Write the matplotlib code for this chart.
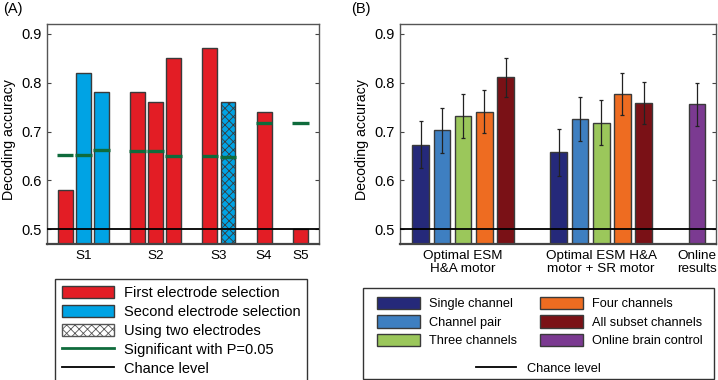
import matplotlib
matplotlib.use("Agg")
import matplotlib.pyplot as plt
from matplotlib.patches import Patch, Rectangle
from matplotlib.lines import Line2D
import numpy as np

plt.rcParams['font.family'] = ['Liberation Sans', 'DejaVu Sans']
plt.rcParams['hatch.linewidth'] = 0.6

# ---------------- Panel A data ----------------
a_pos = [1, 2, 3, 5, 6, 7, 9, 10, 12, 14]
a_vals = [0.58, 0.82, 0.78, 0.78, 0.76, 0.85, 0.87, 0.76, 0.74, 0.50]
a_kind = ['first', 'second', 'second', 'first', 'first', 'first', 'first', 'both', 'first', 'first']
a_sig = [0.653, 0.653, 0.662, 0.660, 0.660, 0.651, 0.650, 0.647, 0.718, 0.718]
a_ticks = [2, 6, 9.5, 12, 14]
a_ticklabels = ['S1', 'S2', 'S3', 'S4', 'S5']

# ---------------- Panel B data ----------------
b_pos = [1, 2, 3, 4, 5, 7.5, 8.5, 9.5, 10.5, 11.5, 14]
b_vals = [0.673, 0.703, 0.731, 0.741, 0.811,
          0.658, 0.726, 0.718, 0.776, 0.758,
          0.756]
b_err = [0.048, 0.046, 0.045, 0.044, 0.040,
         0.048, 0.045, 0.046, 0.043, 0.043,
         0.044]
b_kind = ['single', 'pair', 'three', 'four', 'all',
          'single', 'pair', 'three', 'four', 'all',
          'online']
b_ticks = [3, 9.5, 14]
b_ticklabels = ['Optimal ESM\nH&A motor', 'Optimal ESM H&A\nmotor + SR motor', 'Online\nresults']

chance = 0.5

colA = {'first': '#e31d25', 'second': '#00a3e4', 'both': '#00a3e4'}
colB = {'single': '#25297a', 'pair': '#3e7fc1', 'three': '#9bc75b',
        'four': '#ee6c21', 'all': '#7a1116', 'online': '#7b3a91'}
labB = {'single': 'Single channel', 'pair': 'Channel pair', 'three': 'Three channels',
        'four': 'Four channels', 'all': 'All subset channels', 'online': 'Online brain control'}
green = '#0f6b3c'
edge = '#3a3a3a'
FS = 10.5
FSX = 9.7
FSL = 9.2

W, H = 718, 380
fig = plt.figure(figsize=(W / 100, H / 100), dpi=100)

def style(ax, label_x_px, left_px, width_px):
    ax.set_ylim(0.47, 0.92)
    ax.set_yticks([0.5, 0.6, 0.7, 0.8, 0.9])
    ax.set_yticklabels(['0.5', '0.6', '0.7', '0.8', '0.9'])
    ax.tick_params(axis='y', direction='in', right=True, length=3, labelsize=FS, pad=4, color='#444')
    ax.tick_params(axis='x', length=0, labelsize=FSX, pad=4)
    for s in ax.spines.values():
        s.set_color('#555')
        s.set_linewidth(1.0)
    ax.spines['bottom'].set_linewidth(1.6)
    ax.spines['bottom'].set_color('#444')
    ax.set_ylabel('Decoding accuracy', fontsize=10.2, va='center')
    ax.yaxis.set_label_coords((label_x_px - left_px) / width_px, (244 - 140) / 220)

# Panel A
axA = fig.add_axes([47 / W, 1 - 244 / H, (319 - 47) / W, (244 - 24) / H])
for p, v, k in zip(a_pos, a_vals, a_kind):
    axA.bar(p, v, width=0.82, color=colA[k], edgecolor=edge, linewidth=1.0,
            hatch='xxxx' if k == 'both' else None, zorder=2)
axA.hlines(a_sig, np.array(a_pos) - 0.46, np.array(a_pos) + 0.46, colors=green, linewidth=2.4, zorder=3)
axA.axhline(chance, color='black', linewidth=1.3, zorder=4)
axA.set_xlim(0, 15.03)
axA.set_xticks(a_ticks)
axA.set_xticklabels(a_ticklabels)
style(axA, 9, 47, 272)

# Panel B
axB = fig.add_axes([400 / W, 1 - 244 / H, (716 - 400) / W, (244 - 24) / H])
for p, v, e, k in zip(b_pos, b_vals, b_err, b_kind):
    axB.bar(p, v, width=0.78, color=colB[k], edgecolor=edge, linewidth=1.0, zorder=2)
axB.errorbar(b_pos, b_vals, yerr=b_err, fmt='none', ecolor='#222', elinewidth=0.9,
             capsize=1.5, capthick=0.9, zorder=3)
axB.axhline(chance, color='black', linewidth=1.3, zorder=4)
axB.set_xlim(0.03, 14.9)
axB.set_xticks(b_ticks)
axB.set_xticklabels(b_ticklabels, linespacing=1.15)
style(axB, 362, 400, 316)

fig.text(3 / W, 1 - 9 / H, '(A)', fontsize=FS, va='center', ha='left')
fig.text(351 / W, 1 - 9 / H, '(B)', fontsize=FS, va='center', ha='left')

# Legend A
hA = [Patch(facecolor=colA['first'], edgecolor=edge, linewidth=1.0),
      Patch(facecolor=colA['second'], edgecolor=edge, linewidth=1.0),
      Patch(facecolor='white', edgecolor='#555', hatch='xxxx', linewidth=1.0),
      Line2D([], [], color=green, linewidth=2.0),
      Line2D([], [], color='black', linewidth=1.3)]
lA = ['First electrode selection', 'Second electrode selection', 'Using two electrodes',
      'Significant with P=0.05', 'Chance level']
legA = fig.legend(hA, lA, loc='upper left', bbox_to_anchor=(55 / W, 1 - 279 / H),
                  bbox_transform=fig.transFigure, borderaxespad=0, fontsize=FS,
                  handlelength=3.6, handleheight=0.95, handletextpad=0.7, labelspacing=0.32,
                  borderpad=0.45, fancybox=False, edgecolor='#333', framealpha=1)
legA.get_frame().set_linewidth(1.0)

# Legend B (frame drawn separately)
fig.patches.append(Rectangle((363 / W, 1 - 379 / H), (714 - 363) / W, (379 - 288) / H,
                             transform=fig.transFigure, facecolor='white', edgecolor='#333',
                             linewidth=1.0, zorder=0))
order = ['single', 'pair', 'three', 'four', 'all', 'online']
hB = [Patch(facecolor=colB[k], edgecolor=edge, linewidth=1.0) for k in order]
legB = fig.legend(hB, [labB[k] for k in order], ncol=2, loc='upper left',
                  bbox_to_anchor=(377 / W, 1 - 297 / H), bbox_transform=fig.transFigure,
                  borderaxespad=0, borderpad=0, fontsize=FSL, frameon=False,
                  handlelength=3.36, handleheight=1.1, handletextpad=0.7, labelspacing=0.38,
                  columnspacing=1.8)
legC = fig.legend([Line2D([], [], color='black', linewidth=1.3)], ['Chance level'],
                  loc='center', bbox_to_anchor=(538.5 / W, 1 - 368.5 / H), bbox_transform=fig.transFigure,
                  borderaxespad=0, borderpad=0, fontsize=FSL, frameon=False,
                  handlelength=3.1, handletextpad=0.85)

fig.savefig('out.png', dpi=100)
